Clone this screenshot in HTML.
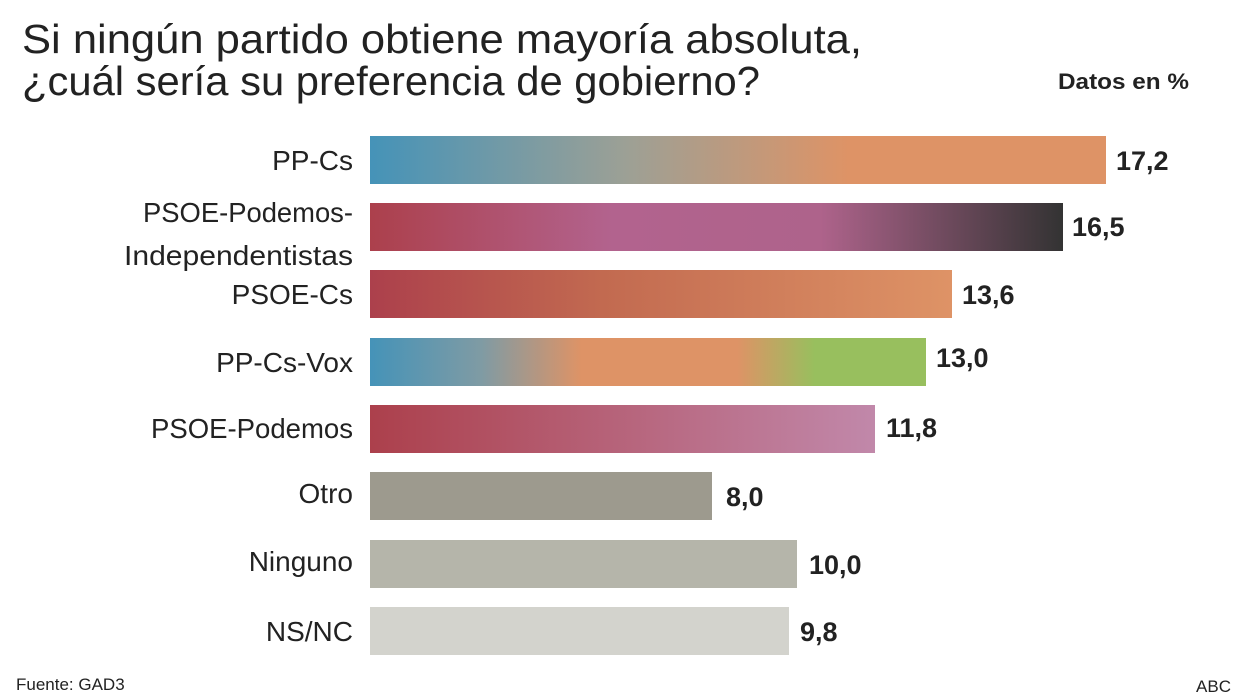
<!DOCTYPE html>
<html><head><meta charset="utf-8"><style>
body{margin:0;background:#fff;}
svg{display:block;font-family:"Liberation Sans",sans-serif;}
</style></head><body>
<svg width="1248" height="698" viewBox="0 0 1248 698">
<defs>
<linearGradient id="g1"><stop offset="0" stop-color="#4593b8"/><stop offset="0.35" stop-color="#9da095"/><stop offset="0.65" stop-color="#de9366"/><stop offset="1" stop-color="#de9366"/></linearGradient>
<linearGradient id="g2"><stop offset="0" stop-color="#ac404c"/><stop offset="0.35" stop-color="#b2638e"/><stop offset="0.65" stop-color="#ae638b"/><stop offset="1" stop-color="#333"/></linearGradient>
<linearGradient id="g3"><stop offset="0" stop-color="#ac404c"/><stop offset="0.4" stop-color="#c26a50"/><stop offset="1" stop-color="#de9366"/></linearGradient>
<linearGradient id="g4"><stop offset="0" stop-color="#4593b8"/><stop offset="0.2" stop-color="#7f9ba4"/><stop offset="0.38" stop-color="#de9366"/><stop offset="0.66" stop-color="#de9366"/><stop offset="0.8" stop-color="#98bf5e"/><stop offset="1" stop-color="#98bf5e"/></linearGradient>
<linearGradient id="g5"><stop offset="0" stop-color="#ac404c"/><stop offset="1" stop-color="#c188aa"/></linearGradient>
</defs>
<text x="22" y="53" font-size="41" fill="#222" textLength="840" lengthAdjust="spacingAndGlyphs">Si ningún partido obtiene mayoría absoluta,</text>
<text x="22" y="95" font-size="41" fill="#222" textLength="738" lengthAdjust="spacingAndGlyphs">¿cuál sería su preferencia de gobierno?</text>
<text x="1189" y="89" font-size="22" font-weight="bold" fill="#222" text-anchor="end" textLength="131" lengthAdjust="spacingAndGlyphs">Datos en %</text>
<g font-size="28" fill="#222" text-anchor="end">
<text x="353" y="170">PP-Cs</text>
<text x="353" y="222" textLength="210" lengthAdjust="spacingAndGlyphs">PSOE-Podemos-</text>
<text x="353" y="265" textLength="229" lengthAdjust="spacingAndGlyphs">Independentistas</text>
<text x="353" y="304">PSOE-Cs</text>
<text x="353" y="372">PP-Cs-Vox</text>
<text x="353" y="438" textLength="202" lengthAdjust="spacingAndGlyphs">PSOE-Podemos</text>
<text x="353" y="503">Otro</text>
<text x="353" y="571">Ninguno</text>
<text x="353" y="641">NS/NC</text>
</g>
<rect x="370" y="136" width="736" height="48" fill="url(#g1)"/>
<rect x="370" y="203" width="693" height="48" fill="url(#g2)"/>
<rect x="370" y="270" width="582" height="48" fill="url(#g3)"/>
<rect x="370" y="338" width="556" height="48" fill="url(#g4)"/>
<rect x="370" y="405" width="505" height="48" fill="url(#g5)"/>
<rect x="370" y="472" width="342" height="48" fill="#9d9a8e"/>
<rect x="370" y="540" width="427" height="48" fill="#b5b5aa"/>
<rect x="370" y="607" width="419" height="48" fill="#d3d3cd"/>
<g font-size="27" font-weight="bold" fill="#222">
<text x="1116" y="170">17,2</text>
<text x="1072" y="236">16,5</text>
<text x="962" y="304">13,6</text>
<text x="936" y="367">13,0</text>
<text x="886" y="437">11,8</text>
<text x="726" y="506">8,0</text>
<text x="809" y="574">10,0</text>
<text x="800" y="641">9,8</text>
</g>
<text x="16" y="690" font-size="17" fill="#222">Fuente: GAD3</text>
<text x="1231" y="692" font-size="17" fill="#222" text-anchor="end">ABC</text>
</svg>
</body></html>
